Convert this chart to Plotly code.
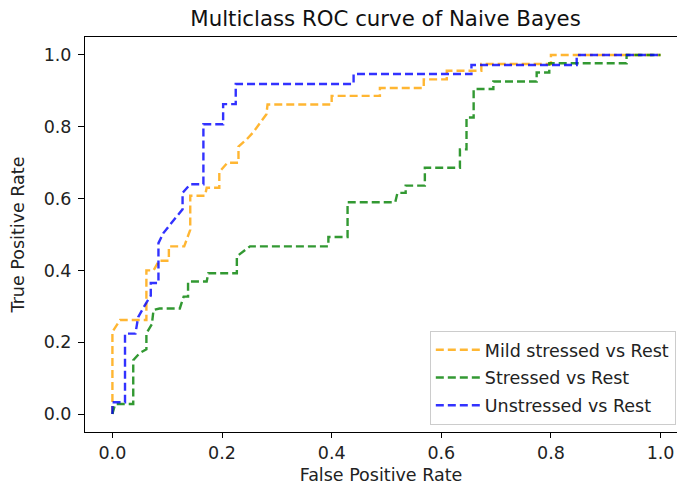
import plotly.graph_objects as go

# ROC curve data
mild_fpr = [0.0, 0.0, 0.014, 0.062, 0.062, 0.075, 0.085, 0.103, 0.103, 0.131, 0.142, 0.142,
            0.169, 0.172, 0.195, 0.195, 0.21, 0.23, 0.23, 0.245, 0.257, 0.269, 0.281, 0.283,
            0.40, 0.40, 0.488, 0.488, 0.568, 0.568, 0.61, 0.61, 0.673, 0.673, 0.80, 0.80, 1.0]
mild_tpr = [0.0, 0.229, 0.262, 0.262, 0.40, 0.40, 0.427, 0.427, 0.467, 0.467, 0.513, 0.608,
            0.608, 0.63, 0.63, 0.674, 0.70, 0.70, 0.745, 0.765, 0.785, 0.81, 0.835, 0.862,
            0.862, 0.886, 0.886, 0.908, 0.908, 0.932, 0.932, 0.956, 0.956, 0.975, 0.975, 1.0, 1.0]

stressed_fpr = [0.0, 0.005, 0.038, 0.038, 0.05, 0.062, 0.062, 0.072, 0.075, 0.086, 0.123, 0.13,
                0.138, 0.138, 0.172, 0.175, 0.227, 0.227, 0.251, 0.394, 0.394, 0.429, 0.429,
                0.516, 0.52, 0.535, 0.535, 0.57, 0.57, 0.634, 0.634, 0.646, 0.646, 0.659, 0.659,
                0.695, 0.695, 0.774, 0.774, 0.797, 0.797, 0.938, 0.938, 1.0]
stressed_tpr = [0.0, 0.028, 0.028, 0.15, 0.17, 0.18, 0.225, 0.25, 0.29, 0.294, 0.294, 0.327,
                0.327, 0.369, 0.369, 0.392, 0.392, 0.439, 0.467, 0.467, 0.493, 0.493, 0.59,
                0.59, 0.616, 0.616, 0.636, 0.636, 0.686, 0.686, 0.737, 0.737, 0.826, 0.826, 0.905,
                0.905, 0.926, 0.926, 0.951, 0.951, 0.977, 0.977, 1.0, 1.0]

unstressed_fpr = [0.0, 0.0, 0.023, 0.023, 0.042, 0.047, 0.058, 0.07, 0.07, 0.084, 0.084, 0.093,
                  0.105, 0.12, 0.128, 0.128, 0.142, 0.166, 0.166, 0.202, 0.202, 0.225, 0.225,
                  0.44, 0.44, 0.655, 0.655, 0.847, 0.847, 1.0]
unstressed_tpr = [0.0, 0.033, 0.033, 0.224, 0.224, 0.27, 0.30, 0.33, 0.365, 0.365, 0.476, 0.504,
                  0.527, 0.555, 0.57, 0.616, 0.64, 0.64, 0.807, 0.807, 0.863, 0.863, 0.919,
                  0.919, 0.947, 0.947, 0.972, 0.972, 1.0, 1.0]

series_names = ["Mild stressed vs Rest", "Stressed vs Rest", "Unstressed vs Rest"]
series_colors = ["orange", "green", "blue"]
tick_vals = [0.0, 0.2, 0.4, 0.6, 0.8, 1.0]
tick_text = ["0.0", "0.2", "0.4", "0.6", "0.8", "1.0"]

FONT = "DejaVu Sans"
FS = 17.5

fig = go.Figure()
for xs, ys, name, col in zip([mild_fpr, stressed_fpr, unstressed_fpr],
                             [mild_tpr, stressed_tpr, unstressed_tpr],
                             series_names, series_colors):
    fig.add_trace(go.Scatter(x=xs, y=ys, mode="lines", name=name, opacity=0.8,
                             legendgroup=name,
                             line=dict(color=col, width=2.4, dash="8px,4px")))

axis_common = dict(showgrid=False, zeroline=False, showline=True, linecolor="black",
                   linewidth=1, ticks="outside", tickwidth=1, tickcolor="black",
                   tickfont=dict(family=FONT, size=FS, color="#222"),
                   tickvals=tick_vals, ticktext=tick_text)

fig.update_layout(
    width=678, height=488,
    margin=dict(l=85, r=1, t=37, b=56),
    paper_bgcolor="white", plot_bgcolor="white",
    font=dict(family=FONT, size=FS, color="#222"),
    title=dict(text="Multiclass ROC curve of Naive Bayes", x=0.5686, xanchor="center",
               y=0.961, yanchor="middle", font=dict(family=FONT, size=21.3, color="#111")),
    xaxis=dict(range=[-0.05, 1.03], mirror=True, ticklen=5,
               title=dict(text="False Positive Rate", standoff=6,
                          font=dict(family=FONT, size=FS, color="#222")),
               **axis_common),
    yaxis=dict(range=[-0.05, 1.05], mirror=False, ticklen=6, ticklabelstandoff=3,
               title=dict(text="True Positive Rate", standoff=14,
                          font=dict(family=FONT, size=FS, color="#222")),
               **axis_common),
    legend=dict(x=0.998, y=0.018, xanchor="right", yanchor="bottom",
                bgcolor="rgba(255,255,255,0.8)", bordercolor="#ccc", borderwidth=1,
                font=dict(family=FONT, size=FS, color="#222"), tracegroupgap=2,
                itemwidth=44),
    showlegend=True,
)

fig.write_html("out.html")
